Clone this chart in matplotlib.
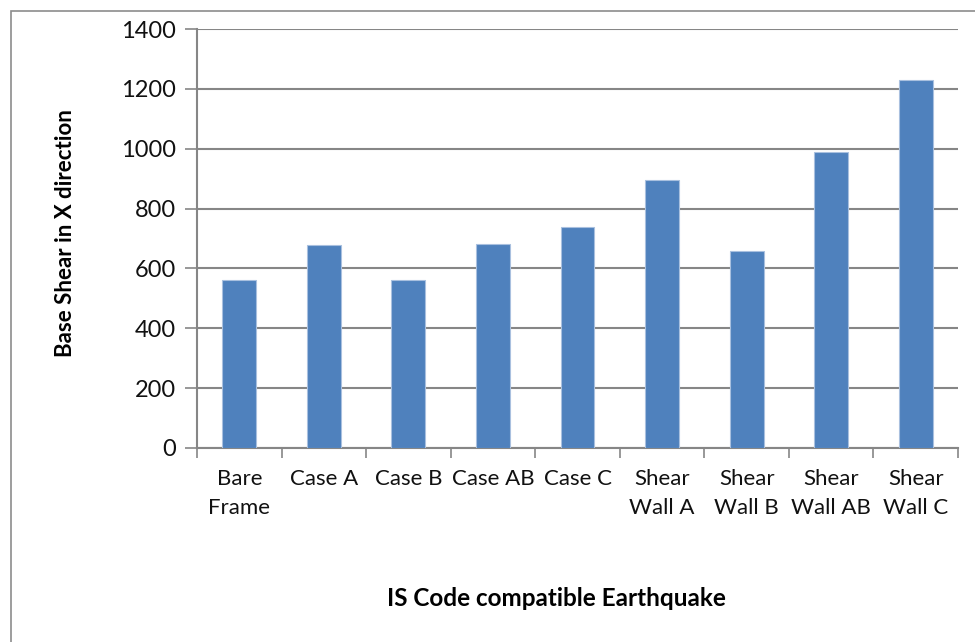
import matplotlib.pyplot as plt
import matplotlib.patches as patches
import numpy as np

# data
categories = ['Bare\nFrame', 'Case A', 'Case B', 'Case AB', 'Case C',
              'Shear\nWall A', 'Shear\nWall B', 'Shear\nWall AB', 'Shear\nWall C']
base_shear = [560, 678, 562, 680, 740, 894, 658, 990, 1228]
y_ticks = [0, 200, 400, 600, 800, 1000, 1200, 1400]

plt.rcParams['font.family'] = ['Lato', 'DejaVu Sans']

# a. figure and axes placed like the Excel chart
fig = plt.figure(figsize=(9.75, 6.42), dpi=100)
ax = fig.add_axes([197/975, 1 - 448/642, (958 - 197)/975, (448 - 29)/642])

# b. bars
x = np.arange(len(categories))
ax.bar(x, base_shear, width=0.4, color='#4f81bd', edgecolor='#a9c0df',
       linewidth=0.8, zorder=3)

# c. axes styling
grey = '#868686'
ax.set_xlim(-0.5, len(categories) - 0.5)
ax.set_ylim(0, 1400)
ax.set_yticks(y_ticks)
ax.yaxis.grid(True, color=grey, linewidth=1.5, zorder=0)
ax.tick_params(axis='y', length=9, width=1.2, color=grey, pad=6,
               labelsize=17, labelcolor='#111111')
for side in ['top', 'right']:
    ax.spines[side].set_visible(False)
for side in ['left', 'bottom']:
    ax.spines[side].set_color(grey)
    ax.spines[side].set_linewidth(1.5)

# x ticks at category boundaries, labels at centres
ax.set_xticks(np.arange(len(categories) + 1) - 0.5)
ax.set_xticklabels([])
ax.tick_params(axis='x', which='major', length=7, width=1.2, color=grey)
ax.set_xticks(x, minor=True)
ax.set_xticklabels(categories, minor=True, fontsize=16, linespacing=1.55,
                   color='#111111')
ax.tick_params(axis='x', which='minor', length=0, pad=15)

# d. axis titles
fig.text(66/975, 1 - 233/642, 'Base Shear in X direction', rotation=90,
         fontsize=16, fontweight='bold', ha='center', va='center')
fig.text(556/975, 1 - 598/642, 'IS Code compatible Earthquake',
         fontsize=17.5, fontweight='bold', ha='center', va='center')

# e. chart border
fig.add_artist(patches.Rectangle((11/975, -0.1), 1.2, 1 - 11/642 + 0.1,
                                 transform=fig.transFigure, fill=False,
                                 edgecolor='#8c8c8c', linewidth=1.2))

fig.savefig('out.png', dpi=100)
